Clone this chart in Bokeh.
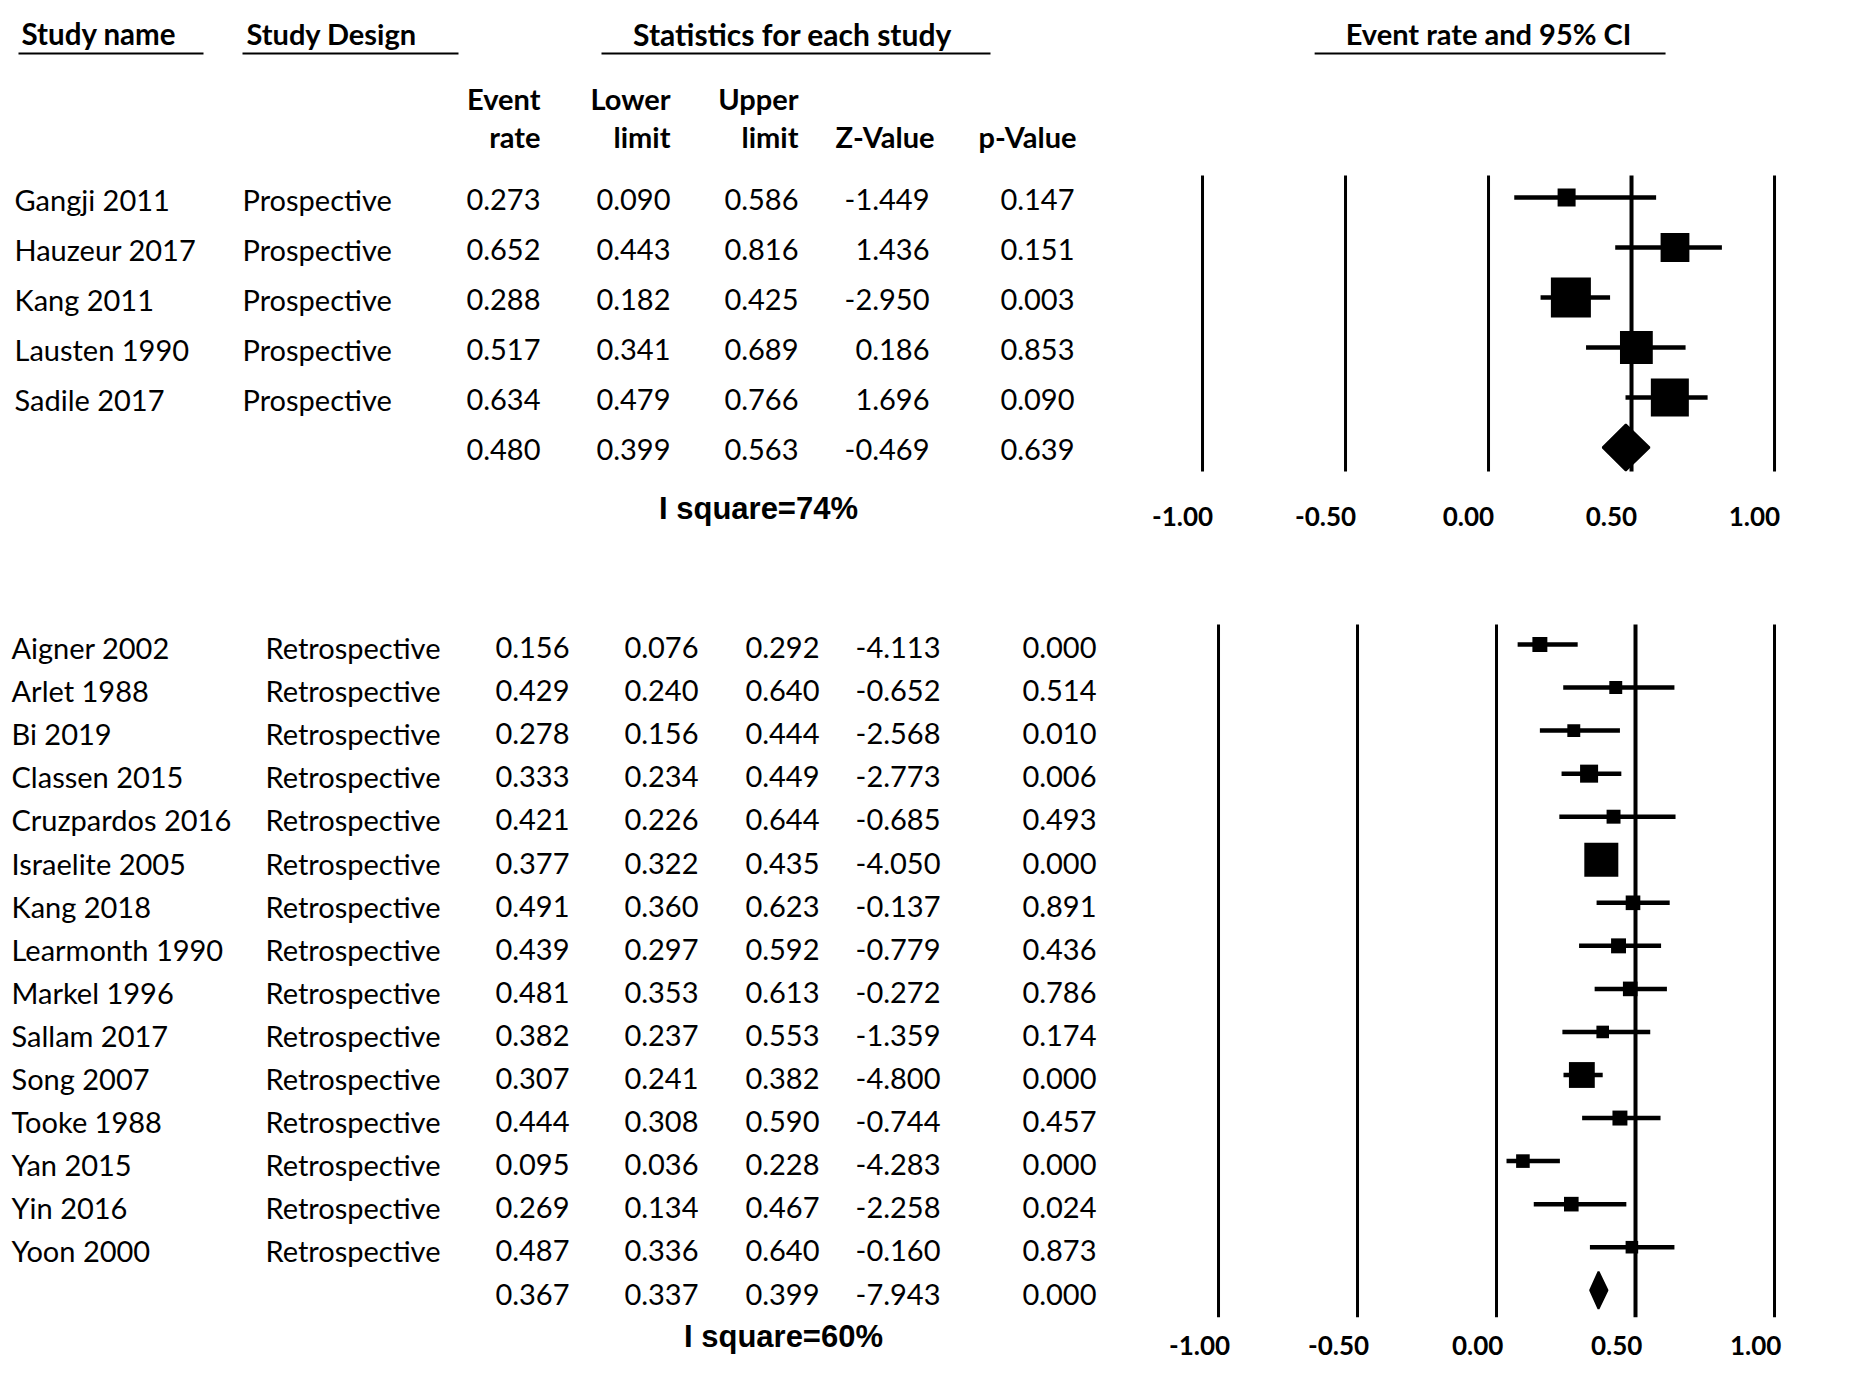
from bokeh.plotting import figure
from bokeh.layouts import row, column
from bokeh.models import Range1d, FixedTicker, NumeralTickFormatter, LinearAxis
from bokeh.core.properties import value
from bokeh.embed import file_html
from bokeh.resources import INLINE

# ---------------- data ----------------
pro_names = ["Gangji 2011", "Hauzeur 2017", "Kang 2011", "Lausten 1990", "Sadile 2017"]
pro_design = ["Prospective"] * 5
pro_rate = [0.273, 0.652, 0.288, 0.517, 0.634]
pro_lower = [0.090, 0.443, 0.182, 0.341, 0.479]
pro_upper = [0.586, 0.816, 0.425, 0.689, 0.766]
pro_z = [-1.449, 1.436, -2.950, 0.186, 1.696]
pro_p = [0.147, 0.151, 0.003, 0.853, 0.090]
pro_weight = [0.45, 0.72, 1.0, 0.82, 0.95]          # relative study weight (box size)
pro_summary = [0.480, 0.399, 0.563, -0.469, 0.639]  # rate, lower, upper, z, p
pro_isq = "I square=74%"

ret_names = ["Aigner 2002", "Arlet 1988", "Bi 2019", "Classen 2015", "Cruzpardos 2016",
             "Israelite 2005", "Kang 2018", "Learmonth 1990", "Markel 1996", "Sallam 2017",
             "Song 2007", "Tooke 1988", "Yan 2015", "Yin 2016", "Yoon 2000"]
ret_design = ["Retrospective"] * 15
ret_rate = [0.156, 0.429, 0.278, 0.333, 0.421, 0.377, 0.491, 0.439, 0.481, 0.382,
            0.307, 0.444, 0.095, 0.269, 0.487]
ret_lower = [0.076, 0.240, 0.156, 0.234, 0.226, 0.322, 0.360, 0.297, 0.353, 0.237,
             0.241, 0.308, 0.036, 0.134, 0.336]
ret_upper = [0.292, 0.640, 0.444, 0.449, 0.644, 0.435, 0.623, 0.592, 0.613, 0.553,
             0.382, 0.590, 0.228, 0.467, 0.640]
ret_z = [-4.113, -0.652, -2.568, -2.773, -0.685, -4.050, -0.137, -0.779, -0.272, -1.359,
         -4.800, -0.744, -4.283, -2.258, -0.160]
ret_p = [0.000, 0.514, 0.010, 0.006, 0.493, 0.000, 0.891, 0.436, 0.786, 0.174,
         0.000, 0.457, 0.000, 0.024, 0.873]
ret_weight = [0.44, 0.38, 0.38, 0.53, 0.41, 1.0, 0.43, 0.44, 0.43, 0.37,
              0.76, 0.44, 0.40, 0.43, 0.37]
ret_summary = [0.367, 0.337, 0.399, -7.943, 0.000]
ret_isq = "I square=60%"

tick_values = [-1.0, -0.5, 0.0, 0.5, 1.0]
ref_value = 0.5

headers_top = ["Study name", "Study Design", "Statistics for each study", "Event rate and 95% CI"]
col_heads = [("Event", "rate"), ("Lower", "limit"), ("Upper", "limit"), ("", "Z-Value"), ("", "p-Value")]

FONT = "Lato"
BODY = "29px"
HEAD = "29px"
fmt = lambda v: "%.3f" % v

# ---------------- table (left) ----------------
TW, TH = 1100, 1362
OFF = 8
tab = figure(width=TW, height=TH, x_range=Range1d(-OFF, TW - OFF), y_range=Range1d(TH - OFF, -OFF),
             output_backend="svg", toolbar_location=None, min_border=0)
tab.axis.visible = False
tab.grid.visible = False
tab.outline_line_color = None


def txt(fig, x, y, s, align="left", size=BODY, bold=False, font=FONT):
    fig.text(x=x, y=y, text=s, text_font=value(font), text_font_size=size,
             text_align=align, text_baseline="middle", text_color="black",
             text_font_style="bold" if bold else "normal")


# headers
txt(tab, [13], [25], [headers_top[0]], bold=True, size="29.5px")
txt(tab, [238], [25], [headers_top[1]], bold=True, size="29px")
txt(tab, [784], [25], [headers_top[2]], align="center", bold=True, size="30px")
tab.segment(x0=[10, 234, 593], y0=[45, 45, 45], x1=[195, 450, 982], y1=[45, 45, 45],
            line_color="black", line_width=2)
top_cols = [532, 662, 790, 926, 1068]
for cx, (h1, h2) in zip(top_cols, col_heads):
    txt(tab, [cx], [90], [h1], align="right", bold=True, size=HEAD)
    txt(tab, [cx], [128], [h2], align="right", bold=True, size=HEAD)


def table_block(names, design, rate, lower, upper, z, p, summary, isq,
                y0, dy, xs, isq_x, isq_y):
    n = len(names)
    ys = [y0 + dy * i for i in range(n)]
    txt(tab, [xs[0]] * n, ys, names)
    txt(tab, [xs[1]] * n, ys, design)
    cols = [rate, lower, upper, z, p]
    ys_all = ys + [y0 + dy * n]
    for cx, vals, sv in zip(xs[2:], cols, summary):
        txt(tab, [cx] * (n + 1), ys_all, [fmt(v) for v in vals] + [fmt(sv)], align="right")
    txt(tab, [isq_x], [isq_y], [isq], align="center", bold=True, size="31px",
        font="Liberation Sans")


table_block(pro_names, pro_design, pro_rate, pro_lower, pro_upper, pro_z, pro_p,
            pro_summary, pro_isq, 191, 50, [6, 234, 532, 662, 790, 921, 1066], 750, 500)
table_block(ret_names, ret_design, ret_rate, ret_lower, ret_upper, ret_z, ret_p,
            ret_summary, ret_isq, 639, 43.1, [3, 257, 561, 690, 811, 932, 1088], 775, 1328)


# ---------------- forest plots (right) ----------------
def forest(width, height, frame_h, xstart, xend, lab_shift, standoff, rate, lower, upper,
           weight, summary, y0, dy, box_max, dia_h, line_top, line_bot, header=False):
    f = figure(width=width, height=height, x_range=Range1d(xstart, xend),
               y_range=Range1d(frame_h - OFF, -OFF), output_backend="svg",
               toolbar_location=None, min_border=0, min_border_bottom=height - frame_h,
               x_axis_location=None, y_axis_location=None)
    f.grid.visible = False
    f.outline_line_color = None
    f.extra_x_ranges = {"lab": Range1d(xstart + lab_shift, xend + lab_shift)}
    ax = LinearAxis(x_range_name="lab")
    ax.ticker = FixedTicker(ticks=tick_values)
    ax.formatter = NumeralTickFormatter(format="0.00")
    ax.axis_line_color = None
    ax.major_tick_line_color = None
    ax.minor_tick_line_color = None
    ax.major_tick_out = 0
    ax.major_tick_in = 0
    ax.major_label_standoff = standoff
    ax.major_label_text_font = FONT
    ax.major_label_text_font_size = "26px"
    ax.major_label_text_font_style = "bold"
    ax.major_label_text_color = "black"
    f.add_layout(ax, "below")

    n = len(rate)
    ys = [y0 + dy * i for i in range(n)]
    ysum = y0 + dy * n
    ytop = y0 - line_top
    ybot = ysum + line_bot
    others = [t for t in tick_values if t != ref_value]
    f.segment(x0=others, x1=others, y0=[ytop] * len(others), y1=[ybot] * len(others),
              line_color="black", line_width=3)
    f.segment(x0=[ref_value], x1=[ref_value], y0=[ytop], y1=[ybot],
              line_color="black", line_width=4)
    f.segment(x0=lower, x1=upper, y0=ys, y1=ys, line_color="black", line_width=4.5)
    f.scatter(x=rate, y=ys, marker="square", size=[box_max * w for w in weight],
              fill_color="black", line_color="black", line_width=0)
    r, lo, hi = summary[0], summary[1], summary[2]
    f.patch(x=[lo, r, hi, r], y=[ysum, ysum - dia_h / 2, ysum, ysum + dia_h / 2],
            fill_color="black", line_color="black", line_width=2)
    if header:
        f.text(x=[0.0], y=[25], text=[headers_top[3]], text_font=value(FONT),
               text_font_size=HEAD, text_font_style="bold", text_align="center",
               text_baseline="middle", text_color="black")
        f.segment(x0=[-0.608], x1=[0.619], y0=[45], y1=[45], line_color="black", line_width=2)
    return f


FW = 738
f_top = forest(FW, 552, 498, -1.3567, 1.2237, 0.07, 8, pro_rate, pro_lower, pro_upper,
               pro_weight, pro_summary, 189, 50, 40, 46, 22, 24, header=True)
f_bot = forest(FW, 810, 768, -1.4245, 1.2302, 0.068, 15, ret_rate, ret_lower, ret_upper,
               ret_weight, ret_summary, 84, 43.05, 34, 37, 20, 27)

layout = row(tab, column(f_top, f_bot, spacing=0), spacing=0)

open("out.html", "w").write(file_html(layout, INLINE))
